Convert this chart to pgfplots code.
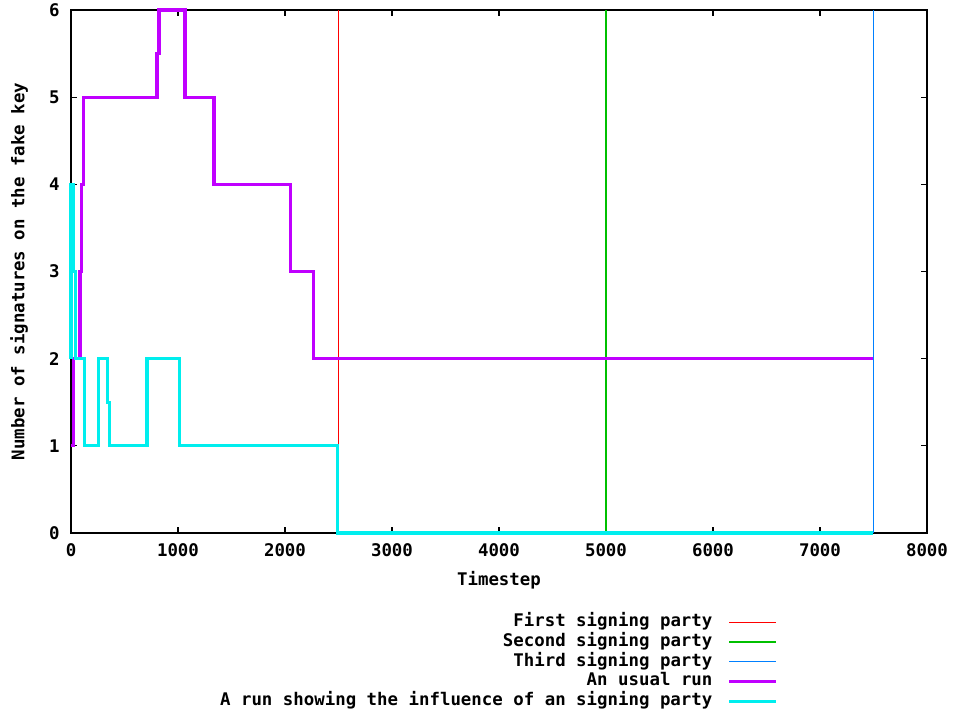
\documentclass[border=0pt]{standalone}
\usepackage{fontspec}
\setmainfont{DejaVu Sans Mono}
\usepackage{pgfplots}
\pgfplotsset{compat=1.18}
\definecolor{gnured}{rgb}{1,0,0}
\definecolor{gnugreen}{rgb}{0,0.753,0}
\definecolor{gnublue}{rgb}{0,0.502,1}
\definecolor{gnupurple}{rgb}{0.753,0,1}
\definecolor{gnucyan}{rgb}{0,0.933,0.933}
\newcommand\gpfont{\fontsize{8.7}{10.4}\selectfont\bfseries}
\begin{document}
\begin{tikzpicture}
\useasboundingbox (-35.5pt,-88.5pt) rectangle (442pt,266.5pt);
\begin{axis}[
  at={(0pt,0pt)}, anchor=south west,
  scale only axis, width=428pt, height=261.5pt,
  xmin=0, xmax=8000, ymin=0, ymax=6,
  xtick={0,1000,...,8000}, ytick={0,1,...,6},
  scaled x ticks=false,
  /pgf/number format/assume math mode=true,
  /pgf/number format/set thousands separator={},
  tick align=inside, major tick length=3pt,
  axis line style={black, line width=0.6pt},
  tick style={black, line width=0.6pt},
  clip=false,
  every tick label/.append style={font=\gpfont},
  xticklabel style={anchor=center, inner sep=0pt, yshift=-8.5pt},
  yticklabel style={anchor=east, inner sep=0pt, xshift=-5.5pt},
  xlabel={Timestep},
  ylabel={Number of signatures on the fake key},
  label style={font=\gpfont},
  xlabel style={at={(axis description cs:0.5,-0.0899)}, anchor=center},
  ylabel style={at={(axis description cs:-0.0607,0.5)}, anchor=center},
  legend plot pos=right,
  legend cell align=right,
  legend image code/.code={\draw[#1] (0pt,0pt) -- (23.5pt,0pt);},
  legend style={draw=none, fill=none, inner sep=0pt, font=\gpfont,
    at={(axis description cs:0.826,-0.153)}, anchor=north east,
    row sep=1.07pt, column sep=7.5pt,
    nodes={inner sep=0pt, text height=6.6pt, text depth=2.2pt}},
]
\addplot[gnured, line width=0.7pt] coordinates {(2500,0) (2500,6)};
\addlegendentry{First signing party}
\addplot[gnugreen, line width=0.7pt] coordinates {(5000,0) (5000,6)};
\addlegendentry{Second signing party}
\addplot[gnublue, line width=0.8pt] coordinates {(7500,0) (7500,6)};
\addlegendentry{Third signing party}
\addplot[gnupurple, line width=1.6pt] coordinates {
  (0,1) (25,1) (25,2) (85,2) (85,3) (100,3) (100,4) (118,4) (118,5)
  (804,5) (804,5.5) (823,5.5) (823,6) (1066,6) (1066,5) (1337,5) (1337,4)
  (2048,4) (2048,3) (2263,3) (2263,2) (7500,2)};
\addlegendentry{An usual run}
\addplot[gnucyan, line width=1.6pt] coordinates {
  (0,2) (0,4) (25,4) (25,3) (40,3) (40,2) (125,2) (125,1) (255,1) (255,2)
  (343,2) (343,1.5) (358,1.5) (358,1) (710,1) (710,2) (1013,2) (1013,1)
  (2493,1) (2493,0) (7500,0)};
\addlegendentry{A run showing the influence of an signing party}
\end{axis}
\end{tikzpicture}
\end{document}
